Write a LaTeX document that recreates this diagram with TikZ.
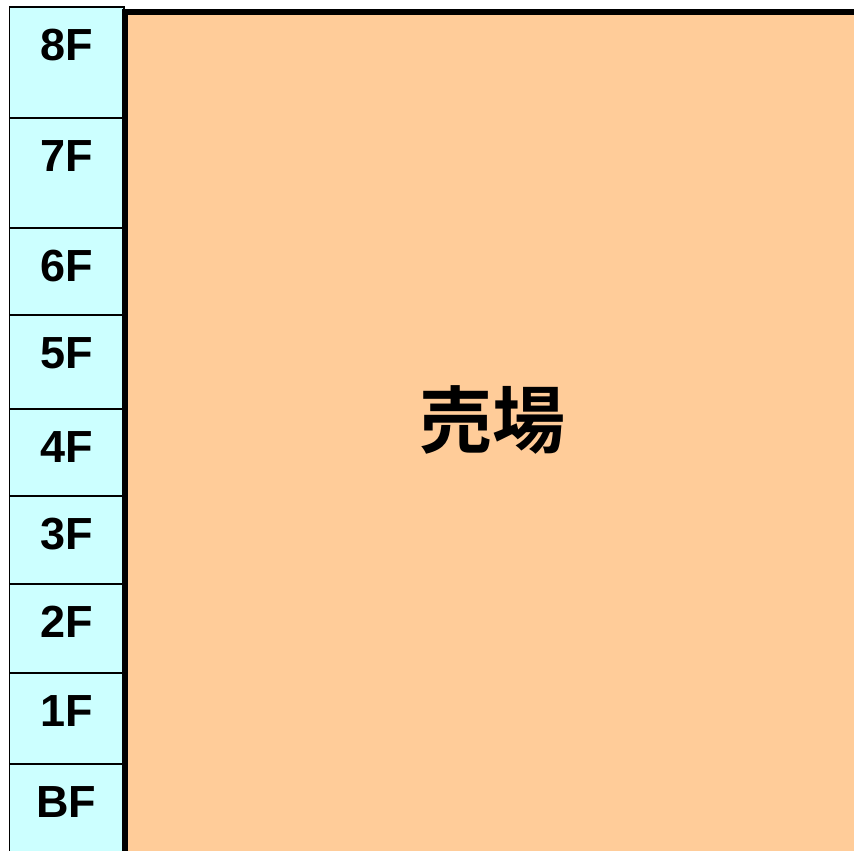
\documentclass[tikz,border=0pt]{standalone}
\usepackage{fontspec}
\setmainfont{Liberation Sans}
\newfontfamily\cjk{Noto Sans CJK JP Bold}
\definecolor{floorcyan}{HTML}{CCFFFF}
\definecolor{salesorange}{HTML}{FFCC99}
\begin{document}
\begin{tikzpicture}[x=1pt,y=-1pt,
  cell/.style={draw=black,line width=1.5pt,fill=floorcyan},
  flabel/.style={font=\fontsize{45}{45}\selectfont\bfseries,inner sep=0pt,anchor=center}]
\useasboundingbox (0,0) rectangle (854,851);
% floor column
\foreach \t/\b/\l/\n in {7/118/8F/f8,118/228/7F/f7,228/315/6F/f6,315/409/5F/f5,409/496/4F/f4,496/584/3F/f3,584/673/2F/f2,673/764/1F/f1,764/860/BF/fb}{
  \draw[cell] (9.5,\t) rectangle (124,\b);
  \node[flabel] (\n) at (66.5,{\t+38}) {\l};
}
% sales area
\fill[salesorange] (125,12) rectangle (860,860);
\draw[line width=6pt] (125,860) -- (125,12.5) -- (860,12.5);
\node[font=\cjk\fontsize{73}{73}\selectfont,inner sep=0pt] (sales) at (492,420) {売場};
\end{tikzpicture}
\end{document}
